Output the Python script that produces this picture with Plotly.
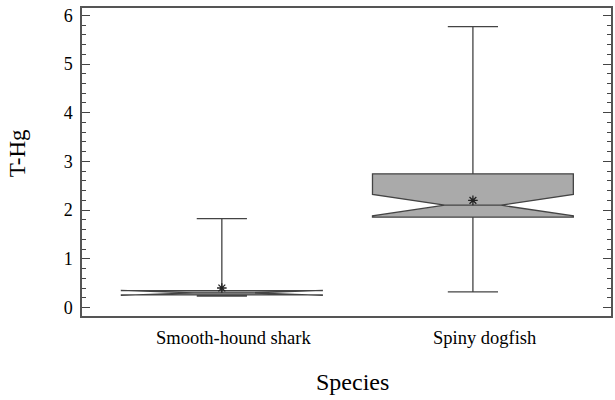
import plotly.graph_objects as go

species = ["Smooth-hound shark", "Spiny dogfish"]
q1 = [0.257, 1.855]
median = [0.300, 2.100]
q3 = [0.345, 2.745]
lowerfence = [0.236, 0.319]
upperfence = [1.826, 5.768]
notchspan = [0.05, 0.22]
means = [0.40, 2.20]

y_ticks = [0, 1, 2, 3, 4, 5, 6]

fig = go.Figure()
fig.add_trace(go.Box(
    x=species, q1=q1, median=median, q3=q3,
    lowerfence=lowerfence, upperfence=upperfence,
    notchspan=notchspan, notched=True, notchwidth=0.36,
    width=0.8, whiskerwidth=0.25,
    fillcolor="#aaaaaa",
    line=dict(color="#444444", width=1.3),
    boxpoints=False, showlegend=False,
))
fig.add_trace(go.Scatter(
    x=species, y=means, mode="markers",
    marker=dict(symbol="asterisk-open", size=8, color="#222222",
                line=dict(color="#222222", width=1.3)),
    showlegend=False,
))

font = "Liberation Serif"
label_annotations = [
    dict(text=s, x=s, xref="x", y=0, yref="paper", yshift=-22, xshift=12,
         xanchor="center", yanchor="middle", showarrow=False,
         font=dict(size=18.5, family=font, color="black"))
    for s in species
]

fig.update_layout(
    width=615, height=400,
    margin=dict(l=82, r=2, t=8, b=84),
    plot_bgcolor="white", paper_bgcolor="white",
    font=dict(family=font, color="black"),
    xaxis=dict(
        type="category", range=[-0.557, 1.55],
        showline=True, linecolor="#555555", linewidth=1.5, mirror=True,
        ticks="", showgrid=False, zeroline=False, showticklabels=False,
    ),
    yaxis=dict(
        range=[-0.175, 6.15],
        tickvals=y_ticks, ticktext=[str(v) for v in y_ticks],
        showline=True, linecolor="#555555", linewidth=1.5, mirror="ticks",
        ticks="inside", ticklen=8, tickwidth=1.3, tickcolor="#444444",
        minor=dict(dtick=0.2, ticks="inside", ticklen=4, tickwidth=1.3, tickcolor="#444444", showgrid=False),
        showgrid=False, zeroline=False,
        tickfont=dict(size=18, family=font, color="black"),
        ticklabelstandoff=4,
    ),
    annotations=label_annotations + [
        dict(text="Species", xref="paper", yref="paper", x=0.512, y=-0.215,
             xanchor="center", yanchor="middle", showarrow=False,
             font=dict(size=24, family=font, color="black")),
        dict(text="T-Hg", xref="paper", yref="paper", x=-0.122, y=0.53,
             xanchor="center", yanchor="middle", showarrow=False, textangle=-90,
             font=dict(size=23, family=font, color="black")),
    ],
)

fig.write_html("out.html", config={"displayModeBar": False})
with open("out.html", encoding="utf-8") as f:
    html = f.read()
html = html.replace("<head>", "<head><style>html,body{margin:0;padding:0;overflow:hidden;}</style>", 1)
with open("out.html", "w", encoding="utf-8") as f:
    f.write(html)
